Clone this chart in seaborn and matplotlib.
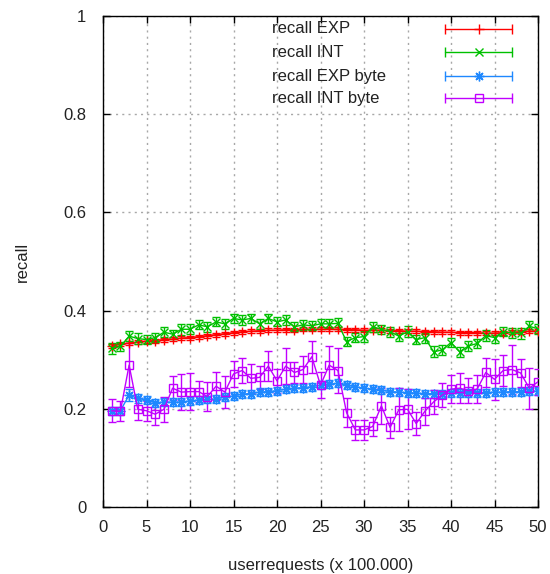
import numpy as np
import pandas as pd
import matplotlib
matplotlib.use("Agg")
import matplotlib.pyplot as plt
import seaborn as sns
from matplotlib.ticker import FormatStrFormatter

# ---------------- data ----------------
x_requests = list(range(1, 51))

recall_exp = [0.328, 0.331, 0.334, 0.336, 0.338, 0.339, 0.341, 0.342, 0.344, 0.345,
              0.347, 0.349, 0.351, 0.353, 0.355, 0.357, 0.358, 0.359, 0.360, 0.360,
              0.361, 0.361, 0.362, 0.362, 0.362, 0.362, 0.362, 0.361, 0.361, 0.360,
              0.360, 0.360, 0.359, 0.359, 0.358, 0.358, 0.357, 0.357, 0.356, 0.356,
              0.355, 0.355, 0.355, 0.354, 0.354, 0.355, 0.356, 0.357, 0.358, 0.359]
err_exp = [0.004, 0.004, 0.004, 0.004, 0.004, 0.004, 0.004, 0.004, 0.004, 0.004,
           0.004, 0.004, 0.004, 0.004, 0.004, 0.004, 0.004, 0.004, 0.004, 0.004,
           0.004, 0.004, 0.004, 0.004, 0.004, 0.004, 0.004, 0.004, 0.004, 0.004,
           0.004, 0.004, 0.004, 0.004, 0.004, 0.004, 0.004, 0.004, 0.004, 0.004,
           0.004, 0.004, 0.004, 0.004, 0.004, 0.004, 0.004, 0.004, 0.004, 0.004]

recall_int = [0.323, 0.327, 0.348, 0.343, 0.341, 0.345, 0.356, 0.352, 0.362, 0.362,
              0.371, 0.367, 0.377, 0.373, 0.384, 0.381, 0.384, 0.373, 0.384, 0.377,
              0.381, 0.367, 0.371, 0.369, 0.373, 0.373, 0.374, 0.337, 0.345, 0.347,
              0.367, 0.362, 0.357, 0.348, 0.357, 0.341, 0.345, 0.316, 0.320, 0.335,
              0.316, 0.328, 0.333, 0.349, 0.345, 0.357, 0.354, 0.354, 0.368, 0.363]
err_int = [0.011, 0.009, 0.010, 0.011, 0.010, 0.009, 0.010, 0.009, 0.011, 0.010,
           0.009, 0.010, 0.009, 0.010, 0.009, 0.010, 0.009, 0.010, 0.009, 0.009,
           0.010, 0.009, 0.010, 0.009, 0.010, 0.009, 0.011, 0.010, 0.009, 0.011,
           0.010, 0.009, 0.010, 0.010, 0.011, 0.009, 0.010, 0.011, 0.010, 0.009,
           0.010, 0.010, 0.009, 0.011, 0.010, 0.009, 0.010, 0.011, 0.010, 0.010]

recall_exp_byte = [0.196, 0.196, 0.228, 0.221, 0.218, 0.212, 0.214, 0.213, 0.214, 0.216,
                   0.218, 0.219, 0.220, 0.224, 0.226, 0.230, 0.231, 0.234, 0.235, 0.237,
                   0.240, 0.242, 0.243, 0.245, 0.248, 0.250, 0.252, 0.248, 0.245, 0.242,
                   0.240, 0.238, 0.235, 0.234, 0.233, 0.232, 0.231, 0.231, 0.231, 0.232,
                   0.233, 0.233, 0.233, 0.233, 0.234, 0.234, 0.235, 0.235, 0.236, 0.236]
err_exp_byte = [0.008, 0.008, 0.012, 0.010, 0.009, 0.008, 0.008, 0.008, 0.008, 0.008,
                0.008, 0.008, 0.008, 0.008, 0.008, 0.008, 0.008, 0.008, 0.008, 0.008,
                0.008, 0.008, 0.008, 0.008, 0.008, 0.008, 0.008, 0.008, 0.008, 0.008,
                0.008, 0.008, 0.008, 0.008, 0.008, 0.008, 0.008, 0.008, 0.008, 0.008,
                0.008, 0.008, 0.008, 0.008, 0.008, 0.008, 0.008, 0.008, 0.008, 0.008]

recall_int_byte = [0.196, 0.195, 0.289, 0.199, 0.196, 0.189, 0.199, 0.242, 0.234, 0.235,
                   0.235, 0.225, 0.246, 0.234, 0.271, 0.278, 0.262, 0.264, 0.287, 0.257,
                   0.287, 0.274, 0.280, 0.306, 0.248, 0.289, 0.278, 0.192, 0.157, 0.157,
                   0.164, 0.206, 0.162, 0.198, 0.199, 0.170, 0.195, 0.214, 0.228, 0.240,
                   0.242, 0.237, 0.240, 0.274, 0.260, 0.278, 0.280, 0.273, 0.242, 0.255]
err_int_byte = [0.023, 0.020, 0.044, 0.022, 0.020, 0.022, 0.025, 0.024, 0.037, 0.037,
                0.022, 0.030, 0.029, 0.032, 0.026, 0.025, 0.030, 0.024, 0.030, 0.024,
                0.037, 0.022, 0.027, 0.033, 0.027, 0.039, 0.046, 0.030, 0.020, 0.021,
                0.020, 0.036, 0.022, 0.044, 0.041, 0.024, 0.027, 0.024, 0.024, 0.029,
                0.030, 0.025, 0.029, 0.029, 0.042, 0.031, 0.049, 0.029, 0.042, 0.027]

series_names = ["recall EXP", "recall INT", "recall EXP byte", "recall INT byte"]
series_values = [recall_exp, recall_int, recall_exp_byte, recall_int_byte]
series_errors = [err_exp, err_int, err_exp_byte, err_int_byte]
series_colors = ["#ff0000", "#00c000", "#1e88ff", "#c000ff"]
series_markers = ["+", "x", (8, 2, 0), "s"]
series_msize = [7, 6, 7, 6]

x_ticks = [0, 5, 10, 15, 20, 25, 30, 35, 40, 45, 50]
y_ticks = [0, 0.2, 0.4, 0.6, 0.8, 1]

# ---------------- style ----------------
sns.set_theme(style="white")
plt.rcParams["font.family"] = ["Liberation Sans", "DejaVu Sans"]
plt.rcParams["font.size"] = 12

fig = plt.figure(figsize=(5.5, 5.74), dpi=100)
ax = fig.add_axes([103 / 550, 1 - 507 / 574, 435 / 550, 491 / 574])

for name, vals, errs, col, mk, ms in zip(series_names, series_values, series_errors,
                                         series_colors, series_markers, series_msize):
    df = pd.DataFrame({"x": x_requests, "recall": vals})
    ax.errorbar(x_requests, vals, yerr=errs, fmt="none", ecolor=col,
                elinewidth=1, capsize=3, capthick=1, zorder=3)
    sns.lineplot(data=df, x="x", y="recall", ax=ax, color=col, marker=mk,
                 markersize=ms, markerfacecolor="none", markeredgecolor=col,
                 markeredgewidth=1, linewidth=1, zorder=4, legend=False)

ax.set_xlim(0, 50)
ax.set_ylim(0, 1)
ax.set_xticks(x_ticks)
ax.set_yticks(y_ticks)
ax.yaxis.set_major_formatter(FormatStrFormatter("%g"))
ax.grid(True, color="#a8a8a8", linestyle=(0, (1.5, 3)), linewidth=1)
ax.tick_params(direction="in", length=5, width=1, color="black",
               top=True, right=True, bottom=True, left=True,
               labelsize=12, labelcolor="#222222")
ax.tick_params(axis="y", pad=12)
ax.tick_params(axis="x", pad=9)
for sp in ax.spines.values():
    sp.set_color("black")
    sp.set_linewidth(1)
ax.set_facecolor("white")
ax.set_xlabel("userrequests (x 100.000)", fontsize=12, color="#222222", labelpad=17)
ax.set_ylabel("recall", fontsize=12, color="#222222", labelpad=24)

# ---------------- legend (gnuplot style) ----------------
row_y = [0.9745, 0.926, 0.877, 0.832]
for yy, name, col, mk, ms in zip(row_y, series_names, series_colors,
                                  series_markers, series_msize):
    ax.text(0.389, yy, name, transform=ax.transAxes, ha="left", va="center",
            fontsize=12, color="#222222")
    ax.plot([0.787, 0.941], [yy, yy], transform=ax.transAxes, color=col,
            linewidth=1, clip_on=False)
    ax.plot([0.787, 0.941], [yy, yy], transform=ax.transAxes, color=col,
            linestyle="none", marker="|", markersize=7, markeredgewidth=1,
            clip_on=False)
    ax.plot([0.864], [yy], transform=ax.transAxes, color=col, linestyle="none",
            marker=mk, markersize=ms, markerfacecolor="none", markeredgecolor=col,
            markeredgewidth=1, clip_on=False)

fig.savefig("out.png", dpi=100, facecolor="white")
